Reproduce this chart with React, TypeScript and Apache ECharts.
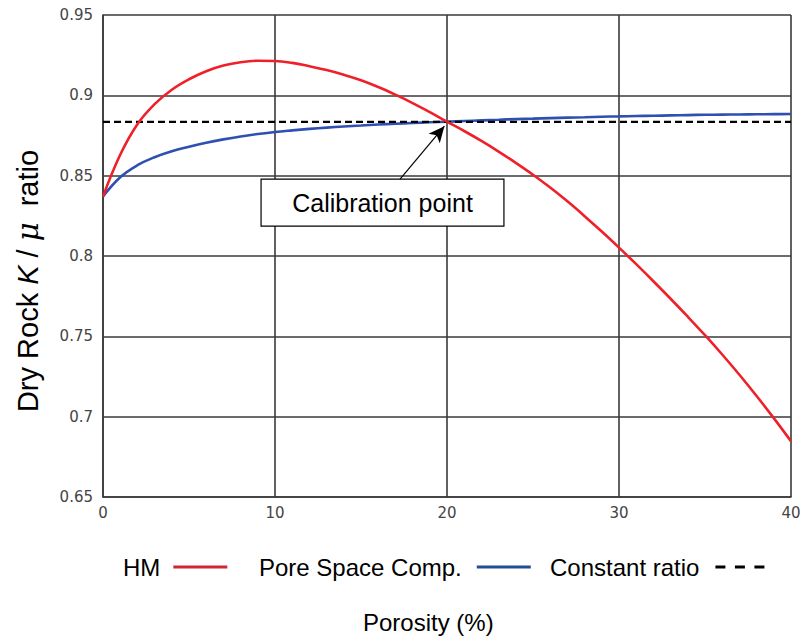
import React, { useEffect, useRef } from "react";
import * as echarts from "echarts";

const porosity = [0, 1, 2, 3, 4, 5, 6, 7, 8, 9, 10, 11, 12, 13, 14, 15, 16, 17, 18, 19, 20, 21, 22, 23, 24, 25, 26, 27, 28, 29, 30, 31, 32, 33, 34, 35, 36, 37, 38, 39, 40];
const hmValues = [0.837, 0.863, 0.882, 0.8945, 0.9035, 0.91, 0.915, 0.9185, 0.9206, 0.9215, 0.9214, 0.9202, 0.9181, 0.9157, 0.9128, 0.9094, 0.9052, 0.9004, 0.8952, 0.8896, 0.8836, 0.8778, 0.8716, 0.865, 0.858, 0.8506, 0.8426, 0.834, 0.8248, 0.8152, 0.8052, 0.7949, 0.7843, 0.7734, 0.7622, 0.7507, 0.7387, 0.7261, 0.7129, 0.6991, 0.6847];
const pscValues = [0.837, 0.849, 0.8565, 0.8615, 0.8652, 0.868, 0.8705, 0.8726, 0.8744, 0.8759, 0.8772, 0.8782, 0.8791, 0.8799, 0.8806, 0.8812, 0.8818, 0.8823, 0.8828, 0.8832, 0.8836, 0.884, 0.8844, 0.8848, 0.8852, 0.8855, 0.8858, 0.8861, 0.8864, 0.8867, 0.8869, 0.8871, 0.8873, 0.8875, 0.8877, 0.8879, 0.888, 0.8881, 0.8882, 0.8883, 0.8884];
const constPorosity = [0, 40];
const constValues = [0.8835, 0.8835];
const seriesNames = ["HM", "Pore Space Comp.", "Constant ratio"];
const calibrationPoint = [20, 0.8836];
const calibrationBox = [[9.19, 0.8479], [23.31, 0.8186]];
const arrowStart = [17.27, 0.8479];

const pairs = (xs: number[], ys: number[]) => xs.map((x, i) => [x, ys[i]]);

export default function App() {
  const ref = useRef<HTMLDivElement>(null);
  useEffect(() => {
    if (!ref.current) return;
    const chart = echarts.init(ref.current, null, { renderer: "svg" });
    const grid = "#3a3a3a";
    const legendText = { fontSize: 24, fontFamily: "Liberation Sans", color: "#000" };
    chart.setOption({
      animation: false,
      backgroundColor: "#ffffff",
      grid: { left: 103, right: 13, top: 15, bottom: 142 },
      xAxis: {
        type: "value",
        min: 0,
        max: 40,
        interval: 10,
        axisLine: { show: true, lineStyle: { color: grid, width: 1.6 } },
        axisTick: { show: false },
        axisLabel: { color: "#444", fontSize: 15, fontFamily: "DejaVu Sans", margin: 8 },
        splitLine: { show: true, lineStyle: { color: grid, width: 1.6 } },
      },
      yAxis: {
        type: "value",
        min: 0.65,
        max: 0.95,
        interval: 0.05,
        axisLine: { show: true, lineStyle: { color: grid, width: 1.6 } },
        axisTick: { show: false },
        axisLabel: { color: "#444", fontSize: 15, fontFamily: "DejaVu Sans", margin: 10 },
        splitLine: { show: true, lineStyle: { color: grid, width: 1.6 } },
      },
      legend: [
        {
          data: [{ name: seriesNames[0], lineStyle: { color: "#d0282e", width: 3 }, itemStyle: { opacity: 0 } }],
          left: 118, top: 550, align: "right", itemWidth: 54, itemHeight: 14,
          textStyle: { ...legendText, padding: [0, 8, 0, 0] },
        },
        {
          data: [{ name: seriesNames[1], lineStyle: { color: "#1f4f96", width: 3 }, itemStyle: { opacity: 0 } }],
          left: 254, top: 550, align: "right", itemWidth: 54, itemHeight: 14,
          textStyle: { ...legendText, padding: [0, 10, 0, 0] },
        },
        {
          data: [{ name: seriesNames[2], lineStyle: { color: "#000", width: 3, type: [10, 9.5] }, itemStyle: { opacity: 0 } }],
          left: 545, top: 550, align: "right", itemWidth: 49, itemHeight: 14,
          textStyle: { ...legendText, padding: [0, 11, 0, 0] },
        },
      ],
      graphic: [
        {
          type: "text",
          x: 28,
          y: 281,
          rotation: Math.PI / 2,
          style: {
            text: "Dry Rock {k|K} / {m|μ}  ratio",
            fontSize: 29,
            fontFamily: "Liberation Sans",
            fill: "#000",
            align: "center",
            verticalAlign: "middle",
            rich: {
              k: { fontSize: 29, fontFamily: "Liberation Sans", fontStyle: "italic", fill: "#000" },
              m: { fontSize: 29, fontFamily: "DejaVu Serif", fontStyle: "italic", fill: "#000" },
            },
          },
        },
        {
          type: "text",
          x: 363,
          y: 622,
          style: {
            text: "Porosity (%)",
            fontSize: 24,
            fontFamily: "Liberation Sans",
            fill: "#000",
            align: "left",
            verticalAlign: "middle",
          },
        },
      ],
      series: [
        {
          name: seriesNames[1],
          type: "line",
          data: pairs(porosity, pscValues),
          symbol: "none",
          smooth: 0.4,
          lineStyle: { color: "#2f50b0", width: 2.6 },
          itemStyle: { color: "#2f50b0" },
          z: 3,
        },
        {
          name: seriesNames[2],
          type: "line",
          data: pairs(constPorosity, constValues),
          symbol: "none",
          lineStyle: { color: "#000", width: 2.4, type: [7, 4] },
          itemStyle: { color: "#000" },
          z: 4,
          markArea: {
            silent: true,
            itemStyle: { color: "#ffffff", borderColor: "#000", borderWidth: 1.2 },
            label: {
              show: true,
              position: "inside",
              formatter: "Calibration point",
              fontSize: 25,
              fontFamily: "Liberation Sans",
              color: "#000",
            },
            data: [[{ coord: calibrationBox[0] }, { coord: calibrationBox[1] }]],
          },
          markLine: {
            silent: true,
            symbolSize: [11, 16],
            lineStyle: { color: "#000", width: 1.2, type: "solid" },
            label: { show: false },
            data: [[{ coord: arrowStart, symbol: "none" }, { coord: [calibrationPoint[0] - 0.15, calibrationPoint[1] - 0.0028], symbol: "arrow" }]],
          },
        },
        {
          name: seriesNames[0],
          type: "line",
          data: pairs(porosity, hmValues),
          symbol: "none",
          smooth: 0.4,
          lineStyle: { color: "#f0202a", width: 2.6 },
          itemStyle: { color: "#f0202a" },
          z: 5,
        },
      ],
    });
    return () => chart.dispose();
  }, []);
  return <div ref={ref} style={{ position: "absolute", left: 0, top: 0, width: 804, height: 639 }} />;
}
